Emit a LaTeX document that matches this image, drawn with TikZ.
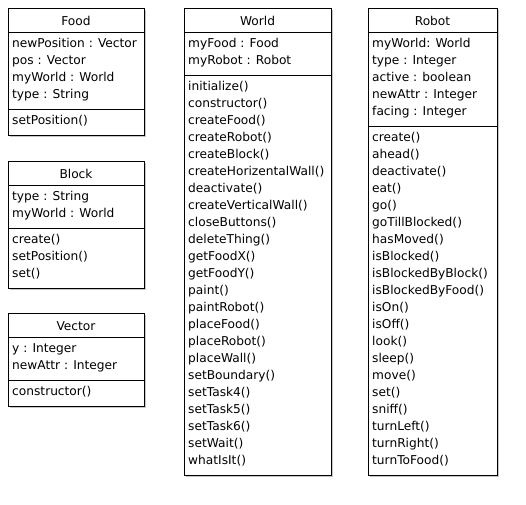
\documentclass[tikz,border=0pt]{standalone}
\usepackage{fontspec}
\setmainfont{DejaVu Sans}
\newcommand{\umlfont}{\fontsize{12.2}{15}\selectfont}
\tikzset{
	box/.style={draw, fill=white, line width=0.9pt},
	shade/.style={fill=black!22},
	member/.style={anchor=base west, inner sep=0pt, font=\umlfont},
	classname/.style={anchor=base, inner sep=0pt, font=\umlfont},
}
% #1 id, #2 left, #3 top, #4 width, #5 attrs, #6 methods, #7 name, #8 attr list, #9 method list
\newcommand{\umlclass}[9]{%
	\pgfmathsetmacro{\ya}{#3+24}
	\pgfmathsetmacro{\yb}{\ya+#5*17+9}
	\pgfmathsetmacro{\yc}{\yb+#6*17+9}
	\fill[shade] (#2+2,#3+2) rectangle (#2+#4+2,\yc+2);
	\draw[box] (#2,#3) rectangle (#2+#4,\yc);
	\draw[line width=0.9pt] (#2,\ya) -- (#2+#4,\ya);
	\draw[line width=0.9pt] (#2,\yb) -- (#2+#4,\yb);
	\node[classname] (#1) at (#2+#4/2,#3+17) {#7};
	\foreach \t [count=\i] in {#8}
		\node[member] (#1-a\i) at (#2+4,\ya+15+17*\i-17) {\t};
	\foreach \t [count=\i] in {#9}
		\node[member] (#1-m\i) at (#2+4,\yb+15+17*\i-17) {\t};
}
\begin{document}
\begin{tikzpicture}[x=1pt,y=-1pt]
	\useasboundingbox (0,0) rectangle (526,504);
	\umlclass{food}{8}{8}{136}{4}{1}{Food}
		{newPosition : Vector, pos : Vector, myWorld : World, type : String}
		{setPosition()}
	\umlclass{block}{8}{161}{136}{2}{3}{Block}
		{type : String, myWorld : World}
		{create(), setPosition(), set()}
	\umlclass{vector}{8}{313}{136}{2}{1}{Vector}
		{y : Integer, newAttr : Integer}
		{constructor()}
	\umlclass{world}{184}{8}{147}{2}{23}{World}
		{myFood : Food, myRobot : Robot}
		{initialize(), constructor(), createFood(), createRobot(), createBlock(),
		 createHorizentalWall(), deactivate(), createVerticalWall(), closeButtons(),
		 deleteThing(), getFoodX(), getFoodY(), paint(), paintRobot(), placeFood(),
		 placeRobot(), placeWall(), setBoundary(), setTask4(), setTask5(), setTask6(),
		 setWait(), whatIsIt()}
	\umlclass{robot}{368}{8}{129}{5}{20}{Robot}
		{myWorld: World, type : Integer, active : boolean, newAttr : Integer, facing : Integer}
		{create(), ahead(), deactivate(), eat(), go(), goTillBlocked(), hasMoved(),
		 isBlocked(), isBlockedByBlock(), isBlockedByFood(), isOn(), isOff(), look(),
		 sleep(), move(), set(), sniff(), turnLeft(), turnRight(), turnToFood()}
\end{tikzpicture}
\end{document}
